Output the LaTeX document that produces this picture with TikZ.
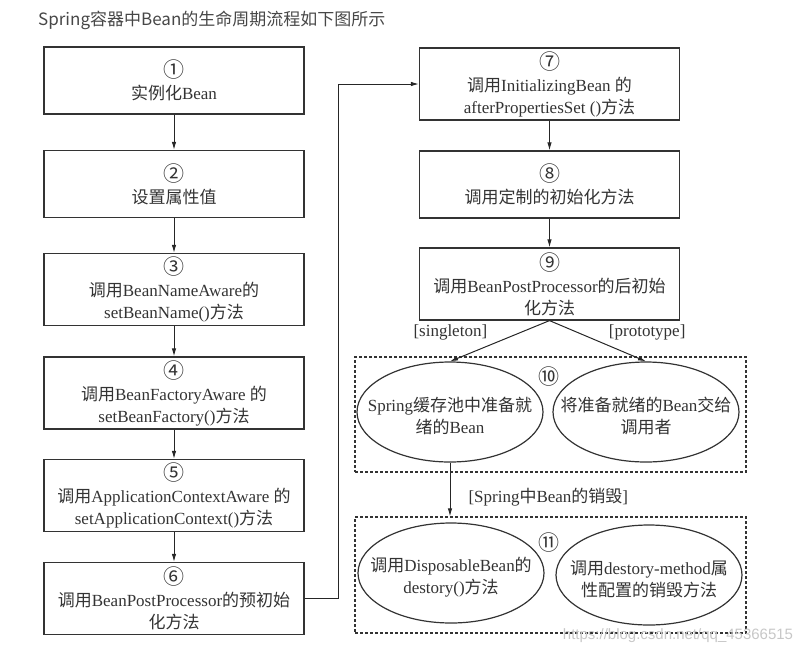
\documentclass[tikz,border=0pt]{standalone}
\usepackage{fontspec}
\setmainfont{Liberation Serif}
\newfontfamily\cjk{Noto Sans CJK SC}
\newfontfamily\wmfont{Liberation Sans}
\newcommand\zh[1]{{\cjk #1}}
\newcommand\circnum[1]{{\cjk\fontsize{21}{22}\selectfont #1}}
\usetikzlibrary{shapes.geometric,arrows.meta}

\begin{document}
\begin{tikzpicture}[x=1pt,y=-1pt,
   font=\fontsize{17}{22}\selectfont,
   every node/.style={text=black!80},
   state/.style={draw=black!80,line width=1.2pt,minimum width=260,minimum height=67,align=center,inner sep=2pt},
   tall/.style={state,minimum height=72},
   oval/.style={draw=black!80,ellipse,line width=1.2pt,minimum width=186,minimum height=100,inner sep=0pt},
   txt/.style={align=center,inner sep=0pt,yshift=-4pt},
   group/.style={draw=black!80,line width=1.1pt,dash pattern=on 3pt off 2pt,minimum width=391,inner sep=0pt},
   to/.style={-{Latex[length=8pt,width=4.5pt]},line width=1pt,draw=black!85},
   wm/.style={font=\wmfont\fontsize{15}{15}\selectfont,text=black!22,inner sep=0pt}]
\useasboundingbox (0,0) rectangle (810,654);
\node[anchor=west,inner sep=0pt,text=black!72] (T) at (38,20) {\cjk\fontsize{17}{17}\selectfont Spring容器中Bean的生命周期流程如下图所示};
% left column
\node[state] (B1) at (174,80.5) {\circnum{①}\\\zh{实例化}Bean};
\node[state] (B2) at (174,184) {\circnum{②}\\\zh{设置属性值}};
\node[tall] (B3) at (174,289.5) {\circnum{③}\\\zh{调用}BeanNameAware\zh{的}\\setBeanName()\zh{方法}};
\node[tall] (B4) at (174,393) {\circnum{④}\\\zh{调用}BeanFactoryAware \zh{的}\\setBeanFactory()\zh{方法}};
\node[tall] (B5) at (174,495.5) {\circnum{⑤}\\\zh{调用}ApplicationContextAware \zh{的}\\setApplicationContext()\zh{方法}};
\node[tall] (B6) at (174,598.5) {\circnum{⑥}\\\zh{调用}BeanPostProcessor\zh{的预初始}\\\zh{化方法}};
% right column
\node[tall] (B7) at (549.5,84) {\circnum{⑦}\\\zh{调用}InitializingBean \zh{的}\\afterPropertiesSet ()\zh{方法}};
\node[state] (B8) at (549.5,184.5) {\circnum{⑧}\\\zh{调用定制的初始化方法}};
\node[tall] (B9) at (549.5,284) {\circnum{⑨}\\\zh{调用}BeanPostProcessor\zh{的后初始}\\\zh{化方法}};
% step 10
\node[group,minimum height=115] (G10) at (550.5,414.5) {};
\node[inner sep=0pt] (N10) at (549,377) {\circnum{⑩}};
\node[oval] (S) at (450,412) {};
\node[txt] (St) at (S) {Spring\zh{缓存池中准备就}\\\zh{绪的}Bean};
\node[oval] (P) at (646,412) {};
\node[txt] (Pt) at (P) {\zh{将准备就绪的}Bean\zh{交给}\\\zh{调用者}};
% step 11
\node[group,minimum height=116] (G11) at (550.5,575) {};
\node[inner sep=0pt] (N11) at (549,543) {\circnum{⑪}};
\node[oval] (D) at (451,573) {};
\node[txt] (Dt) at (D) {\zh{调用}DisposableBean\zh{的}\\destory()\zh{方法}};
\node[oval] (M) at (649,575) {};
\node[txt] (Mt) at (M) {\zh{调用}destory-method\zh{属}\\\zh{性配置的销毁方法}};
\node[wm] (W) at (678,636) {https://blog.csdn.net/qq\_45366515};

\draw[to] (B1.south) -- (B2.north);
\draw[to] (B2.south) -- (B3.north);
\draw[to] (B3.south) -- (B4.north);
\draw[to] (B4.south) -- (B5.north);
\draw[to] (B5.south) -- (B6.north);
\draw[to] (B6.east) -- ++(34,0) |- (B7.west);
\draw[to] (B7.south) -- (B8.north);
\draw[to] (B8.south) -- (B9.north);
\draw[to] (B9.south) -- node[pos=0.3,left=32pt,inner sep=0pt] {[singleton]} (S.north);
\draw[to] (B9.south) -- node[pos=0.3,right=30pt,inner sep=0pt] {[prototype]} (P.north);
\draw[to] (S.south) -- node[pos=0.65,right=18pt,inner sep=0pt] {[Spring\zh{中}Bean\zh{的销毁}]} (S.south |- G11.north);
\end{tikzpicture}
\end{document}
